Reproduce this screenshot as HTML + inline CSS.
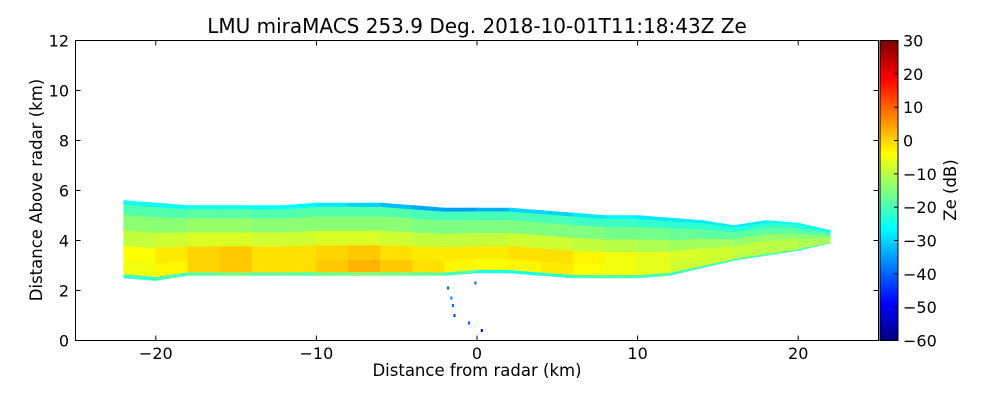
<!DOCTYPE html>
<html>
<head>
<meta charset="utf-8">
<style>
  html, body { margin: 0; padding: 0; background: #fff; }
  svg { display: block; font-family: "DejaVu Sans", "Liberation Sans", sans-serif; }
</style>
</head>
<body>
<svg id="chart" width="1000" height="400" viewBox="0 0 1000 400" xmlns="http://www.w3.org/2000/svg">
  <rect x="0" y="0" width="1000" height="400" fill="#fff"/>
  <text x="477" y="33" text-anchor="middle" font-size="20">LMU miraMACS 253.9 Deg. 2018-10-01T11:18:43Z  Ze</text>
  <g id="cells"></g>
  <g id="dots"></g>
  <rect x="75.5" y="40.5" width="803" height="300" fill="none" stroke="#000" stroke-width="1"/>
  <g id="xticks"></g>
  <g id="yticks"></g>
  <text x="477" y="376" text-anchor="middle" font-size="16.5">Distance from radar (km)</text>
  <text transform="translate(42,190) rotate(-90)" text-anchor="middle" font-size="16.5">Distance Above radar  (km)</text>
  <g id="cbar"></g>
  <text transform="translate(956,190) rotate(-90)" text-anchor="middle" font-size="16.5">Ze (dB)</text>
</svg>
<script>
// ---- data ----
const colX = [-22,-20,-18,-16,-14,-12,-10,-8,-6,-4,-2,0,2,4,6,8,10,12,14,16,18,20,22];
const cloudBase = [2.5,2.4,2.6,2.6,2.6,2.6,2.6,2.6,2.6,2.6,2.6,2.7,2.7,2.6,2.5,2.5,2.5,2.6,2.9,3.2,3.4,3.6,3.9];
const cloudTop  = [5.6,5.5,5.4,5.4,5.4,5.4,5.5,5.5,5.5,5.4,5.3,5.3,5.3,5.2,5.1,5.0,5.0,4.9,4.8,4.6,4.8,4.7,4.4];
const layerFrac = [0,0.05,0.22,0.42,0.62,0.82,0.95,1];
const zeL0 = [-22,-20,-18,-16,-18,-18,-16,-15,-16,-18,-20,-24,-24,-22,-20,-20,-20,-20,-20,-20,-20,-22];
const zeL1 = [-5,-3,0,1,-1,-1,1,3,1,-1,-3,-4,-3,-2,-4,-5,-6,-8,-8,-10,-10,-11];
const zeL2 = [-4,-2,0,1,-1,-1,0,1,-1,-2,-2,-2,-1,-1,-3,-5,-6,-7,-8,-9,-10,-11];
const zeL3 = [-9,-8,-7,-7,-8,-8,-7,-7,-8,-9,-9,-9,-8,-8,-9,-10,-11,-12,-12,-13,-13,-14];
const zeL4 = [-14,-14,-13,-13,-14,-14,-14,-14,-14,-15,-15,-15,-15,-15,-15,-16,-16,-17,-18,-18,-18,-19];
const zeL5 = [-19,-19,-18,-18,-19,-19,-19,-19,-19,-20,-20,-20,-20,-20,-21,-21,-22,-22,-22,-23,-22,-23];
const zeL6 = [-25,-25,-25,-25,-26,-26,-28,-30,-32,-34,-35,-33,-30,-30,-28,-27,-28,-28,-28,-28,-26,-26];
const dotX = [-1.8,-1.6,-1.5,-1.4,-0.1,0.3,-0.5];
const dotY = [2.1,1.7,1.4,1.0,2.3,0.4,0.7];
const dotZe = [-42,-38,-40,-45,-40,-50,-40];
const xTicks = [-20,-10,0,10,20];
const yTicks = [0,2,4,6,8,10,12];
const cTicks = [30,20,10,0,-10,-20,-30,-40,-50,-60];

// ---- scales ----
const X0=75.5, X1=878.5, Y0=340.5, Y1=40.5;
const xs = v => X0 + (v + 25) / 50 * (X1 - X0);
const ys = v => Y0 - v / 12 * (Y0 - Y1);
const cmin=-60, cmax=30;
const cs = v => Y0 - (v - cmin) / (cmax - cmin) * (Y0 - Y1);
function jet(v){
  let t = Math.max(0, Math.min(1, (v - cmin) / (cmax - cmin)));
  const c = a => Math.round(255 * Math.max(0, Math.min(1, 1.5 - Math.abs(4*t - a))));
  return `rgb(${c(3)},${c(2)},${c(1)})`;
}
const NS = "http://www.w3.org/2000/svg";
function mk(tag, attrs, parent){
  const e = document.createElementNS(NS, tag);
  for (const k in attrs) e.setAttribute(k, attrs[k]);
  parent.appendChild(e); return e;
}

// ---- cells ----
const layers = [zeL0,zeL1,zeL2,zeL3,zeL4,zeL5,zeL6];
const gC = document.getElementById('cells');
for (let i = 0; i < colX.length - 1; i++) {
  for (let j = 0; j < layers.length; j++) {
    const h = (k, f) => cloudBase[k] + f * (cloudTop[k] - cloudBase[k]);
    const pts = [
      [xs(colX[i]), ys(h(i, layerFrac[j]))],
      [xs(colX[i+1]), ys(h(i+1, layerFrac[j]))],
      [xs(colX[i+1]), ys(h(i+1, layerFrac[j+1]))],
      [xs(colX[i]), ys(h(i, layerFrac[j+1]))]
    ].map(p => p.join(',')).join(' ');
    const p = mk('polygon', {points: pts, fill: jet(layers[j][i]), stroke: jet(layers[j][i]), 'stroke-width': 0.6}, gC);
    
    
  }
}
const gD = document.getElementById('dots');
for (let i = 0; i < dotX.length; i++) {
  const r = mk('rect', {x: xs(dotX[i]) - 1, y: ys(dotY[i]) - 1.5, width: 2, height: 3, fill: jet(dotZe[i])}, gD);
  
  
}

// ---- axes ----
const gX = document.getElementById('xticks');
xTicks.forEach(v => {
  const x = xs(v);
  mk('line', {x1: x, x2: x, y1: Y0, y2: Y0 - 5, stroke: '#000'}, gX);
  mk('line', {x1: x, x2: x, y1: Y1, y2: Y1 + 5, stroke: '#000'}, gX);
  const t = mk('text', {x: x, y: 359, 'text-anchor': 'middle', 'font-size': 16}, gX);
  t.textContent = (v < 0 ? '\u2212' + (-v) : v);
  
  
});
const gY = document.getElementById('yticks');
yTicks.forEach(v => {
  const y = ys(v);
  mk('line', {x1: X0, x2: X0 + 5, y1: y, y2: y, stroke: '#000'}, gY);
  mk('line', {x1: X1, x2: X1 - 5, y1: y, y2: y, stroke: '#000'}, gY);
  const t = mk('text', {x: 69, y: y + 6, 'text-anchor': 'end', 'font-size': 16}, gY);
  t.textContent = v;
  
  
});

// ---- colorbar ----
const gB = document.getElementById('cbar');
for (let v = cmin; v < cmax; v += 0.5) {
  mk('rect', {x: 880, y: cs(v + 0.5), width: 18, height: (Y0 - Y1) / (cmax - cmin) * 0.5 + 0.4, fill: jet(v + 0.25)}, gB);
}
mk('rect', {x: 880, y: Y1, width: 18, height: Y0 - Y1, fill: 'none', stroke: '#000'}, gB);
cTicks.forEach(v => {
  const y = cs(v);
  mk('line', {x1: 894, x2: 898, y1: y, y2: y, stroke: '#000'}, gB);
  const t = mk('text', {x: 903, y: y + 6, 'font-size': 16}, gB);
  t.textContent = (v < 0 ? '\u2212' + (-v) : v);
  
  
});
</script>
</body>
</html>
